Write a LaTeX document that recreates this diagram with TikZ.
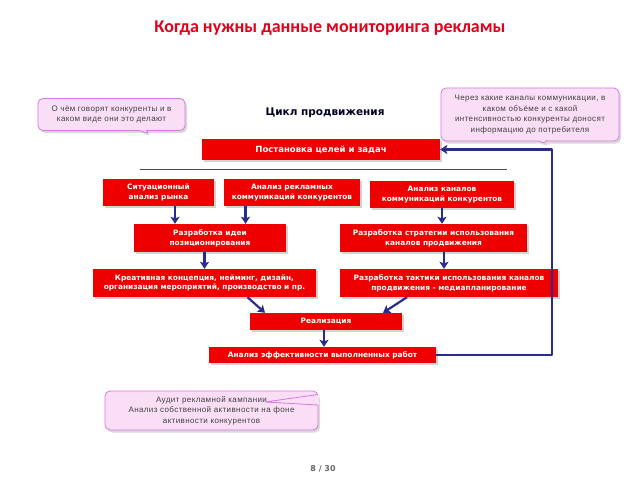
\documentclass[tikz,border=0pt]{standalone}
\usepackage{fontspec}
\setmainfont{DejaVu Sans}
\newfontfamily\titlefont{Carlito}
\newfontfamily\notefont[LetterSpace=5]{Liberation Sans}
\usetikzlibrary{shadows,shapes.callouts,arrows.meta}
\definecolor{boxred}{RGB}{238,0,0}
\definecolor{arrblue}{RGB}{40,44,140}
\definecolor{notefill}{RGB}{250,222,246}
\definecolor{notedraw}{RGB}{214,120,222}
\definecolor{headred}{RGB}{226,0,26}
\begin{document}
\begin{tikzpicture}[x=1pt,y=-1pt,line join=round,
    stage/.style={fill=boxred,text=white,font=\bfseries\fontsize{7.4}{9.8}\selectfont,align=center,inner sep=0pt,
        drop shadow={shadow xshift=1.5pt,shadow yshift=-1.5pt,opacity=.35}},
    note/.style={rectangle callout,rounded corners=5pt,fill=notefill,draw=notedraw,line width=.8pt,
        callout pointer width=7pt,
        text=black!75,font=\notefont\fontsize{8}{10.5}\selectfont,align=center,inner sep=0pt,
        drop shadow={shadow xshift=2pt,shadow yshift=-2.5pt,opacity=.3}},
    arr/.style={-{Stealth[length=7pt,width=9pt,inset=1.5pt]},arrblue,line width=2.2pt}]
\useasboundingbox (0,0) rectangle (640,480);
\node[text=headred,font=\titlefont\bfseries\fontsize{18}{20}\selectfont] (title) at (330,28) {Когда нужны данные мониторинга рекламы};
\node[text=black!85!blue,font=\bfseries\fontsize{10.5}{12}\selectfont] (cycle) at (325,113) {Цикл продвижения};
\node[note,minimum width=147,minimum height=32,callout absolute pointer={(150,134)}] (n1) at (111.5,114.5)
    {О чём говорят конкуренты и в\\каком виде они это делают};
\node[note,minimum width=178,minimum height=53,callout absolute pointer={(545,145)}] (n2) at (530,114.5)
    {Через какие каналы коммуникации, в\\каком объёме и с какой\\интенсивностью конкуренты доносят\\информацию до потребителя};
\node[stage,minimum width=238,minimum height=21,font=\bfseries\fontsize{8.5}{10}\selectfont] (goal) at (321,149.5) {Постановка целей и задач};
\draw[black!70,line width=.8pt] (140,169) -- (507,169);
\node[stage,minimum width=111,minimum height=27] (sit) at (158.5,192.5) {Ситуационный\\анализ рынка};
\node[stage,minimum width=136,minimum height=27] (adv) at (292,192.5) {Анализ рекламных\\коммуникаций конкурентов};
\node[stage,minimum width=144,minimum height=27] (chan) at (442,194.5) {Анализ каналов\\коммуникаций конкурентов};
\node[stage,minimum width=152,minimum height=28] (idea) at (210,238) {Разработка идеи\\позиционирования};
\node[stage,minimum width=187,minimum height=28] (strat) at (433.5,238) {Разработка стратегии использования\\каналов продвижения};
\node[stage,minimum width=223,minimum height=28] (creat) at (204.5,283) {Креативная концепция, нейминг, дизайн,\\организация мероприятий, производство и пр.};
\node[stage,minimum width=218,minimum height=28] (tact) at (449,283) {Разработка тактики использования каналов\\продвижения - медиапланирование};
\node[stage,minimum width=152,minimum height=17] (real) at (326,321.5) {Реализация};
\node[stage,minimum width=227,minimum height=16] (eff) at (322.5,355) {Анализ эффективности выполненных работ};
\coordinate (back) at (552,0);
\draw[arr] ([xshift=16.5pt]sit.south) -- ([xshift=-35pt]idea.north);
\draw[arr] ([xshift=-46.5pt]adv.south) -- ([xshift=35.5pt]idea.north);
\draw[arr] (chan.south) -- (chan.south |- strat.north);
\draw[arr] (creat.north |- idea.south) -- (creat.north);
\draw[arr] ([xshift=10.5pt]strat.south) -- ([xshift=-5pt]tact.north);
\draw[arr] ([xshift=43pt]creat.south) -- ([xshift=-61pt]real.north);
\draw[arr] ([xshift=-42pt]tact.south) -- ([xshift=57pt]real.north);
\draw[arr] ([xshift=-2pt]real.south) -- ([xshift=1.5pt]eff.north);
\draw[arr] (eff.east) -- (eff.east -| back) -- (goal.east -| back) -- (goal.east);
% audit note, pointer folded back inside
\node[note,rectangle,minimum width=213,minimum height=39] (n3) at (211.5,410.5)
    {Аудит рекламной кампании\\Анализ собственной активности на фоне\\активности конкурентов};
\fill[notefill] (319,395) -- (265,402) -- (319,405) -- cycle;
\draw[notedraw,line width=.8pt] (318,394.5) -- (265,402) -- (318,405);
\node[text=black!60,font=\bfseries\fontsize{8}{9}\selectfont] (page) at (323,469) {8 / 30};
\end{tikzpicture}
\end{document}
